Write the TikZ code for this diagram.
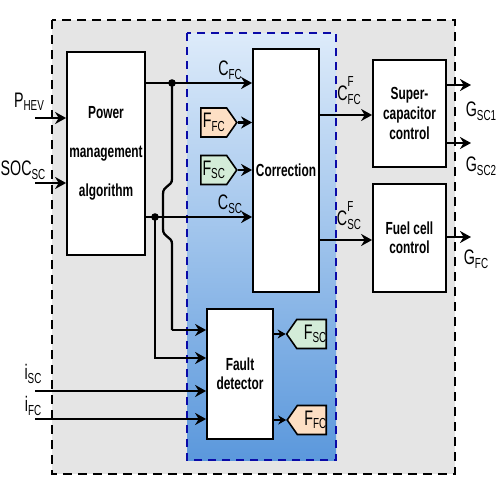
\documentclass[tikz,border=0pt]{standalone}
\usepackage{fontspec}
\setmainfont{Liberation Sans}[FakeStretch=0.68]
\usetikzlibrary{arrows.meta,shapes.symbols,calc}
\definecolor{bggray}{HTML}{E5E5E5}
\definecolor{bluetop}{HTML}{DDEBFA}
\definecolor{bluebot}{HTML}{5B98DC}
\definecolor{blueline}{HTML}{0A0AA8}
\definecolor{peach}{HTML}{FDDFC4}
\definecolor{mint}{HTML}{D3ECD8}
\newcommand\Lab[2]{#1\raisebox{-3.5pt}{\fontsize{14.5}{14}\selectfont #2}}
\newcommand\LabF[2]{#1\rlap{\raisebox{13.5pt}{\fontsize{14.5}{14}\selectfont F}}\raisebox{-4.5pt}{\fontsize{14.5}{14}\selectfont #2}}
\begin{document}
\begin{tikzpicture}[x=1pt,y=-1pt,
  blk/.style={draw, line width=1.8pt, fill=white, inner sep=0pt, align=center},
  arr/.style={line width=2.3pt, -{Stealth[length=11pt,width=12pt]}},
  tarr/.style={line width=1.4pt, -{Stealth[length=8pt,width=9pt]}},
  wire/.style={line width=2.3pt},
  lbl/.style={font=\fontsize{21}{22}\selectfont, inner sep=0pt},
  tag/.style={signal, draw, line width=1.6pt, signal pointer angle=110, minimum width=36pt, minimum height=29pt, inner sep=0pt, font=\fontsize{21}{20}\selectfont}
]
\useasboundingbox (0,0) rectangle (498,477);
\fill[white] (0,0) rectangle (498,477);
% outer gray box
\fill[bggray] (52,20) rectangle (455,474);
\draw[dash pattern=on 9pt off 6pt, line width=2.6pt] (52,20) rectangle (455,474);
% blue box
\shade[top color=bluetop, bottom color=bluebot] (187,33) rectangle (336,460);
\draw[blueline, dash pattern=on 8pt off 6pt, line width=2.6pt] (187,33) rectangle (336,460);

% blocks
\node[blk, minimum width=78pt, minimum height=203pt, font=\bfseries\fontsize{17.5}{39}\selectfont] (pma) at (106,153.5) {Power\\management\\algorithm};
\node[blk, minimum width=66pt, minimum height=243pt, font=\bfseries\fontsize{17.5}{18}\selectfont] (corr) at (286,170.5) {Correction};
\node[blk, minimum width=66pt, minimum height=130pt, font=\bfseries\fontsize{17.5}{19}\selectfont] (fd) at (240,374) {Fault\\detector};
\node[blk, minimum width=73pt, minimum height=107pt, font=\bfseries\fontsize{17.5}{20}\selectfont] (scc) at (409.5,113.5) {Super-\\capacitor\\control};
\node[blk, minimum width=73pt, minimum height=108pt, font=\bfseries\fontsize{17.5}{19}\selectfont] (fcc) at (409.5,238) {Fuel cell\\control};

% tags
\node[tag, signal to=east, fill=peach, anchor=west] (tFFC) at (200,122.5) {\Lab{F}{FC}\hspace{7pt}};
\node[tag, signal to=east, fill=mint, anchor=west] (tFSC) at (200,170) {\Lab{F}{SC}\hspace{7pt}};
\node[tag, signal to=west, fill=mint, anchor=east] (oFSC) at (327,334) {\hspace{7pt}\Lab{F}{SC}};
\node[tag, signal to=west, fill=peach, anchor=east] (oFFC) at (327,420) {\hspace{7pt}\Lab{F}{FC}};

% coordinates
\coordinate (d1) at (172,83);
\coordinate (d2) at (155,217);
\coordinate (f1) at (172,330);
\coordinate (f2) at (155,358);
\coordinate (phin) at (35,118);
\coordinate (socin) at (35,183);
\coordinate (iscin) at (35,391);
\coordinate (ifcin) at (35,419);
\coordinate (cf1) at (0,115);
\coordinate (cf2) at (0,240);
\coordinate (g1) at (471,85);
\coordinate (g2) at (471,143);
\coordinate (g3) at (471,237);

% main connectors
\draw[arr] (pma.east |- d1) -- (corr.west |- d1);
\draw[arr] (pma.east |- d2) -- (corr.west |- d2);
\fill (d1) circle (3.8pt);
\fill (d2) circle (3.8pt);
\draw[arr] (tFFC.east) -- (corr.west |- tFFC.east);
\draw[arr] (tFSC.east) -- (corr.west |- tFSC.east);
\draw[wire] (d1) -- (172,179) .. controls (172,187) and (163,185) .. (163,194) -- (163,229) .. controls (163,238) and (172,236) .. (172,244) -- (f1);
\draw[arr] (f1) -- (fd.west |- f1);
\draw[arr] (d2) -- (f2) -- (fd.west |- f2);
\draw[arr] (phin) -- (pma.west |- phin);
\draw[arr] (socin) -- (pma.west |- socin);
\draw[arr] (iscin) -- (fd.west |- iscin);
\draw[arr] (ifcin) -- (fd.west |- ifcin);
\draw[arr] (corr.east |- cf1) -- (scc.west |- cf1);
\draw[arr] (corr.east |- cf2) -- (fcc.west |- cf2);
\draw[arr] (scc.east |- g1) -- (g1);
\draw[arr] (scc.east |- g2) -- (g2);
\draw[arr] (fcc.east |- g3) -- (g3);
\draw[tarr] (fd.east |- oFSC.west) -- (oFSC.west);
\draw[tarr] (fd.east |- oFFC.west) -- (oFFC.west);

% labels
\node[lbl] (lCFC) at (230,70) {\Lab{C}{FC}};
\node[lbl] (lCSC) at (230,204) {\Lab{C}{SC}};
\node[lbl] (lCFFC) at (349,91) {\LabF{C}{FC}};
\node[lbl] (lCFSC) at (349,216) {\LabF{C}{SC}};
\node[lbl] (lG1) at (481,111) {\Lab{G}{SC1}};
\node[lbl] (lG2) at (481,166) {\Lab{G}{SC2}};
\node[lbl] (lG3) at (476,259) {\Lab{G}{FC}};
\node[lbl] (lP) at (29,102) {\Lab{P}{HEV}};
\node[lbl] (lS) at (23,170) {\Lab{SOC}{SC}};
\node[lbl] (li1) at (33,374) {\Lab{i}{SC}};
\node[lbl] (li2) at (33,406) {\Lab{i}{FC}};
\end{tikzpicture}
\end{document}
